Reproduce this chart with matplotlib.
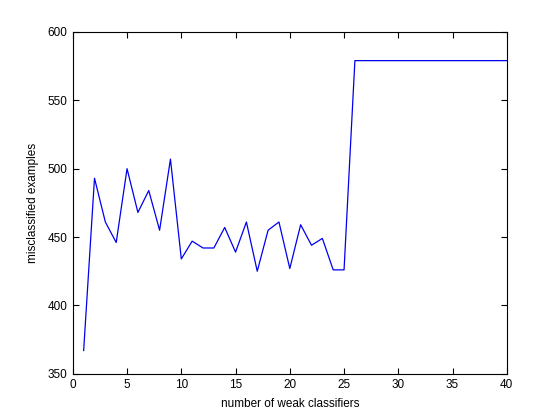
import matplotlib
matplotlib.use("Agg")
import matplotlib.pyplot as plt

# number of weak classifiers vs misclassified examples
n_weak = list(range(1, 41))
misclassified = [
    367, 493, 461, 446, 500, 468, 484, 455, 507, 434,
    447, 442, 442, 457, 439, 461, 425, 455, 461, 427,
    459, 444, 449, 426, 426,
] + [579] * 15

x_ticks = [0, 5, 10, 15, 20, 25, 30, 35, 40]
y_ticks = [350, 400, 450, 500, 550, 600]

plt.rcParams["font.family"] = ["Liberation Sans", "DejaVu Sans"]
plt.rcParams["font.size"] = 8.5

fig = plt.figure(figsize=(5.6, 4.2), dpi=100)
ax = fig.add_axes([0.13, 0.11, 0.775, 0.814])
ax.plot(n_weak, misclassified, color="#0000ee", linewidth=0.9)

ax.set_xlim(0, 40)
ax.set_ylim(350, 600)
ax.set_xticks(x_ticks)
ax.set_yticks(y_ticks)
ax.tick_params(direction="in", top=True, right=True, length=4, width=0.8, pad=4)
for s in ax.spines.values():
    s.set_linewidth(0.8)

ax.set_xlabel("number of weak classifiers", labelpad=5)
ax.set_ylabel("misclassified examples", labelpad=6)

fig.savefig("out.png", dpi=100)
